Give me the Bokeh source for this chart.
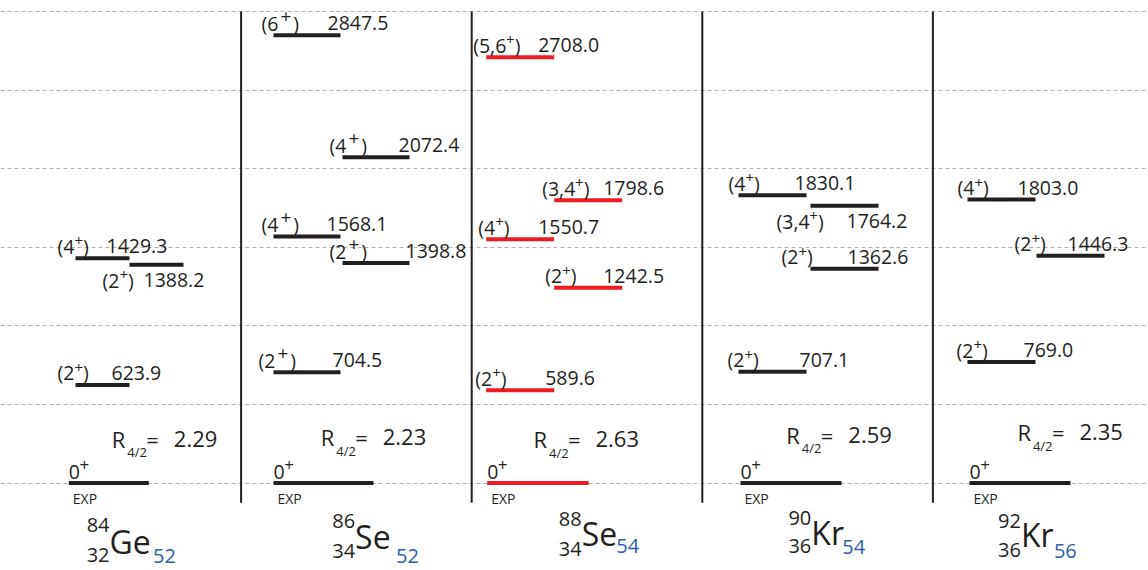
from bokeh.plotting import figure
from bokeh.models import ColumnDataSource, Range1d, Grid, FixedTicker
from bokeh.core.properties import value
from bokeh.embed import file_html
from bokeh.resources import INLINE

# ---------------- data ----------------
symbols = ["Ge", "Se", "Se", "Kr", "Kr"]
mass_numbers = [84, 86, 88, 90, 92]
proton_numbers = [32, 34, 34, 36, 36]
neutron_numbers = [52, 52, 54, 54, 56]
r42_values = [2.29, 2.23, 2.63, 2.59, 2.35]

level_nucleus = [0, 0, 0, 1, 1, 1, 1, 1, 2, 2, 2, 2, 2, 3, 3, 3, 3, 4, 4, 4]
level_energy = [623.9, 1429.3, 1388.2,
                704.5, 1568.1, 1398.8, 2072.4, 2847.5,
                589.6, 1242.5, 1550.7, 1798.6, 2708.0,
                707.1, 1362.6, 1764.2, 1830.1,
                769.0, 1446.3, 1803.0]
level_spin = ["2", "4", "2",
              "2", "4", "2", "4", "6",
              "2", "2", "4", "3,4", "5,6",
              "2", "2", "3,4", "4",
              "2", "2", "4"]
grid_energies = [0, 500, 1000, 1500, 2000, 2500, 3000]

# ---------------- layout / style ----------------
W, H = 1148, 570
PX_PER_COL = 230.6          # pixels per nucleus column
COL0 = 10.0                 # px from frame left to first column
KEV_PER_PX = 1 / 0.1572
ZERO_FROM_TOP = 482.5       # px from frame top to 0 keV
PX = 1 / PX_PER_COL

x_start = -COL0 / PX_PER_COL
x_end = x_start + W / PX_PER_COL
y_top = ZERO_FROM_TOP * KEV_PER_PX
y_bot = -(H - ZERO_FROM_TOP) * KEV_PER_PX

BLACK = "#231f20"
RED = "#ed1c24"
BLUE = "#2a5db0"
col_color = [BLACK, BLACK, RED, BLACK, BLACK]

slot_px = [[65, 119], [32.4, 101.4], [14.5, 82.5], [36.2, 108.2], [34.6, 103.6]]
bar_w_px = [54, 67, 68, 68, 68]
ground_px = [58.3, 32.4, 15.5, 38.2, 36.6]
ground_w_px = [80, 100, 101.5, 101, 101]

level_slot = [0, 0, 1, 0, 0, 1, 1, 0, 0, 1, 0, 1, 0, 0, 1, 1, 0, 0, 1, 0]
label_below = [0, 0, 1, 0, 0, 0, 0, 0, 0, 0, 0, 0, 0, 0, 0, 1, 0, 0, 0, 0]
spin_dx = [-18, -18, -27, -15, -12, -13, -13, -12, -11, -9, -8, -12, -13,
           -11, -29, -34, -10, -11, -22, -10]
energy_dx = [-18, -23, -40, -8, -14, -4, -11, -13, -9, -19, -16, -19, -16,
             -7, -31, -32, -12, -12, -37, -18]
LABEL_FS = 19.5
plus_fs = [15, 19, 15, 15, 15]
plus_gap = [0, 2, 0, 0, 0]
plus_raise = [5, 7, 5, 5, 5]
EM = {"(": 0.296, ")": 0.296, ",": 0.245, "+": 0.572}

r_x_px = [101.3, 79.6, 61.8, 84.0, 84.5]
r_cy = [-44.2, -45.8, -43.8, -48.3, -50.8]
nuc_x_px = [99, 114, 110, 109, 88]
nuc_cy = [58.3, 53.4, 50.5, 49.0, 51.5]
a_cy = [41.7, 38.3, 36.4, 35.0, 37.8]
z_cy = [71.7, 68.3, 65.8, 63.3, 67.2]
n_x_px = [142.5, 155, 144.5, 140, 121]
n_cy = [73.4, 73.0, 63.2, 64.2, 68.0]


def text_w(s, fs):
    return sum(EM.get(ch, 0.572) for ch in s) * fs


FONT = value("Open Sans, Noto Sans, DejaVu Sans")

p = figure(width=W, height=H, output_backend="svg", toolbar_location=None,
           x_range=Range1d(x_start, x_end), y_range=Range1d(y_bot, y_top),
           x_axis_type=None, y_axis_type=None, min_border=0,
           outline_line_color=None, background_fill_color="white",
           border_fill_color="white")
p.grid.visible = False
p.add_layout(Grid(dimension=1, ticker=FixedTicker(ticks=grid_energies),
                  grid_line_color="#b0b0b0", grid_line_dash="4 3",
                  grid_line_width=1))

n_cols = len(symbols)
zeros = [0] * n_cols


def txt(x, y, t, fs, color=BLACK, align="left", **kw):
    p.text(x=x, y=y, text=t, text_font=FONT, text_font_size=fs,
           text_color=color, text_baseline="alphabetic", text_align=align, **kw)


# column separators
p.segment(x0=list(range(1, n_cols)), x1=list(range(1, n_cols)),
          y0=[-125] * (n_cols - 1), y1=[grid_energies[-1]] * (n_cols - 1),
          line_color=BLACK, line_width=2)

# ground states
g_x0 = [i + ground_px[i] * PX for i in range(n_cols)]
g_x1 = [g_x0[i] + ground_w_px[i] * PX for i in range(n_cols)]
p.segment(x0=g_x0, x1=g_x1, y0=zeros, y1=zeros,
          line_color=col_color, line_width=4, line_cap="butt")
txt(g_x0, zeros, ["0"] * n_cols, f"{LABEL_FS}px", x_offset=0, y_offset=-10.8)
txt(g_x0, zeros, ["+"] * n_cols, "17px", x_offset=text_w("0", LABEL_FS) - 0.5,
    y_offset=-18.5)
txt(g_x0, zeros, ["EXP"] * n_cols, "14px", x_offset=4, y_offset=15)

# excited levels
rows = dict(x0=[], x1=[], y=level_energy, color=[], pre=[], en=[], sdx=[],
            pdx=[], cdx=[], edx=energy_dx, cy=[], py=[], pfs=[])
for k, (c, e) in enumerate(zip(level_nucleus, level_energy)):
    x0 = c + slot_px[c][level_slot[k]] * PX
    rows["x0"].append(x0)
    rows["x1"].append(x0 + bar_w_px[c] * PX)
    rows["color"].append(col_color[c])
    pre = "(" + level_spin[k]
    rows["pre"].append(pre)
    rows["en"].append(f"{e:.1f}")
    pdx = spin_dx[k] + text_w(pre, LABEL_FS) + plus_gap[c]
    rows["sdx"].append(spin_dx[k])
    rows["pdx"].append(pdx)
    rows["cdx"].append(pdx + text_w("+", plus_fs[c]) + plus_gap[c])
    cy = 15.7 if label_below[k] else -12
    rows["cy"].append(cy)
    rows["py"].append(cy - plus_raise[c])
    rows["pfs"].append(f"{plus_fs[c]}px")

src = ColumnDataSource(rows)
p.segment(x0="x0", x1="x1", y0="y", y1="y", line_color="color",
          line_width=4, line_cap="butt", source=src)
common = dict(text_font=FONT, text_color=BLACK, text_baseline="alphabetic",
              text_align="left", source=src)
p.text(x="x0", y="y", text="pre", x_offset="sdx", y_offset="cy",
       text_font_size=f"{LABEL_FS}px", **common)
p.text(x="x0", y="y", text=value("+"), x_offset="pdx",
       y_offset="py", text_font_size="pfs", **common)
p.text(x="x0", y="y", text=value(")"), x_offset="cdx",
       y_offset="cy", text_font_size=f"{LABEL_FS}px", **common)
p.text(x="x1", y="y", text="en", x_offset="edx", y_offset="cy",
       text_font_size=f"{LABEL_FS}px", **common)

# R4/2 labels
rx = [i + r_x_px[i] * PX for i in range(n_cols)]
txt(rx, zeros, ["R"] * n_cols, "22px", y_offset=r_cy)
txt(rx, zeros, ["4/2"] * n_cols, "13px", x_offset=15.5,
    y_offset=[c + 13.5 for c in r_cy])
txt(rx, zeros, ["="] * n_cols, "22px", x_offset=34.5, y_offset=r_cy)
txt(rx, zeros, [f"{r:.2f}" for r in r42_values], "22px", x_offset=62,
    y_offset=r_cy)

# nuclide labels
nx = [i + nuc_x_px[i] * PX for i in range(n_cols)]
txt(nx, zeros, symbols, "32px", y_offset=nuc_cy)
txt(nx, zeros, [str(a) for a in mass_numbers], "20px", align="right",
    y_offset=a_cy)
txt(nx, zeros, [str(z) for z in proton_numbers], "20px", align="right",
    y_offset=z_cy)
txt([i + n_x_px[i] * PX for i in range(n_cols)], zeros,
    [str(n) for n in neutron_numbers], "20px", color=BLUE, y_offset=n_cy)

open("out.html", "w").write(file_html(p, INLINE))
